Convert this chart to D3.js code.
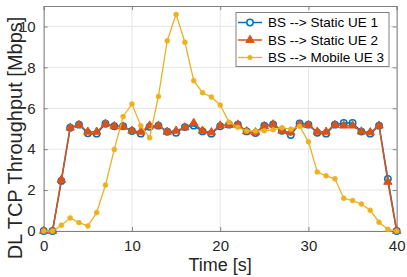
<!DOCTYPE html>
<html><head><meta charset="utf-8">
<script src="https://cdn.jsdelivr.net/npm/d3@7"></script>
<style>body{margin:0;background:#fff}svg{display:block}text{font-family:"Liberation Sans",Arial,sans-serif}</style>
</head><body><svg id="c" width="407" height="277"></svg>
<script>
const time = d3.range(0, 41);
const ue1 = [0,0,2.45,5.05,5.2,4.78,4.76,5.24,5.12,5.12,4.89,4.76,5.1,5.15,4.85,4.8,5.08,5.15,4.87,4.76,5.12,5.2,5.2,4.87,4.79,5.15,5.21,4.9,4.69,5.26,5.2,4.8,4.76,5.2,5.28,5.28,4.86,4.76,5.15,2.55,0];
const ue2 = [0,0,2.5,5.05,5.18,4.85,4.85,5.24,5.12,5.1,4.9,4.85,5.15,5.15,4.85,4.9,5.06,5.28,4.9,4.82,5.15,5.18,5.2,4.87,4.82,5.12,5.21,4.9,4.82,5.2,5.18,4.85,4.85,5.18,5.15,5.15,4.86,4.82,5.15,2.4,0];
const ue3 = [0,0,0.28,0.64,0.41,0.25,0.9,2.25,3.99,5.6,6.21,5.15,4.56,6.58,9.3,10.59,9.23,7.35,6.76,6.55,6.16,5.32,5.07,4.89,4.89,4.9,4.95,5.05,4.98,5.12,4.36,2.89,2.7,2.55,1.6,1.49,1.32,1.01,0.43,0.08,0];
const seriesNames = ["BS --> Static UE 1","BS --> Static UE 2","BS --> Mobile UE 3"];
const xTicks = [0,10,20,30,40];
const yTicks = [0,2,4,6,8,10];

const colors = ["#0072BD","#D95319","#EDB120"];
const svg = d3.select("#c");
const L = 43.7, R = 396.7, T = 6, B = 231;
const x = d3.scaleLinear().domain([0,40]).range([L,R]);
const y = d3.scaleLinear().domain([0,11]).range([B,T]);

// grid
const g = svg.append("g");
g.selectAll(".gx").data(xTicks).join("line").attr("x1",d=>x(d)).attr("x2",d=>x(d)).attr("y1",T).attr("y2",B).attr("stroke","#e6e6e6").attr("stroke-width",1);
g.selectAll(".gy").data(yTicks).join("line").attr("y1",d=>y(d)).attr("y2",d=>y(d)).attr("x1",L).attr("x2",R).attr("stroke","#e6e6e6").attr("stroke-width",1);

// axes
const axColor = "#808080";
const xa = svg.append("g").attr("transform",`translate(0,${B})`).call(d3.axisBottom(x).tickValues(xTicks).tickSize(-4).tickPadding(9));
const xt = svg.append("g").attr("transform",`translate(0,${T})`).call(d3.axisTop(x).tickValues(xTicks).tickSize(-4).tickFormat(""));
const ya = svg.append("g").attr("transform",`translate(${L},0)`).call(d3.axisLeft(y).tickValues(yTicks).tickSize(-4).tickPadding(8));
const yr = svg.append("g").attr("transform",`translate(${R},0)`).call(d3.axisRight(y).tickValues(yTicks).tickSize(-4).tickFormat(""));
[xa,xt,ya,yr].forEach(a=>{
  a.select(".domain").attr("stroke",axColor);
  a.selectAll(".tick line").attr("stroke",axColor);
  a.selectAll("text").attr("fill","#262626").style("font-size","15px").style("font-family",'"Liberation Sans",Arial,sans-serif');
});

// titles
svg.append("text").attr("x",(L+R)/2).attr("y",271).attr("text-anchor","middle").attr("fill","#262626").style("font-size","18px").text("Time [s]");
svg.append("text").attr("transform",`translate(22,138) rotate(-90)`).attr("text-anchor","middle").attr("fill","#262626").style("font-size","20px").text("DL TCP Throughput [Mbps]");

const line = d3.line().x((d,i)=>x(time[i])).y(d=>y(d));
const plot = svg.append("g");
// series 1
plot.append("path").datum(ue1).attr("d",line).attr("fill","none").attr("stroke",colors[0]).attr("stroke-width",1.5);
plot.selectAll(".m1").data(ue1).join("circle").attr("cx",(d,i)=>x(time[i])).attr("cy",d=>y(d)).attr("r",3.2).attr("fill","none").attr("stroke",colors[0]).attr("stroke-width",1.5);
// series 2
plot.append("path").datum(ue2).attr("d",line).attr("fill","none").attr("stroke",colors[1]).attr("stroke-width",1.5);
const tri = d3.symbol().type(d3.symbolTriangle).size(30);
plot.selectAll(".m2").data(ue2).join("path").attr("d",tri).attr("transform",(d,i)=>`translate(${x(time[i])},${y(d)})`).attr("fill",colors[1]).attr("stroke",colors[1]).attr("stroke-width",1);
// series 3
plot.append("path").datum(ue3).attr("d",line).attr("fill","none").attr("stroke",colors[2]).attr("stroke-width",1.3);
plot.selectAll(".m3").data(ue3).join("circle").attr("cx",(d,i)=>x(time[i])).attr("cy",d=>y(d)).attr("r",2.5).attr("fill",colors[2]).attr("stroke",colors[2]).attr("stroke-width",0.5);

// legend
const lg = svg.append("g");
lg.append("rect").attr("x",236).attr("y",12.5).attr("width",153).attr("height",54).attr("fill","#fff").attr("stroke","#808080").attr("stroke-width",1);
const ly = [22.5, 40, 57.5];
seriesNames.forEach((n,k)=>{
  lg.append("line").attr("x1",238).attr("x2",262).attr("y1",ly[k]).attr("y2",ly[k]).attr("stroke",colors[k]).attr("stroke-width",k==2?1.3:1.5);
  if(k==0) lg.append("circle").attr("cx",250).attr("cy",ly[k]).attr("r",3.2).attr("fill","#fff").attr("stroke",colors[0]).attr("stroke-width",1.5);
  if(k==1) lg.append("path").attr("d",tri).attr("transform",`translate(250,${ly[k]})`).attr("fill",colors[1]).attr("stroke",colors[1]);
  if(k==2) lg.append("circle").attr("cx",250).attr("cy",ly[k]).attr("r",2.5).attr("fill",colors[2]);
  lg.append("text").attr("x",268).attr("y",ly[k]+4.5).attr("fill","#000").style("font-size","13.5px").text(n);
});
</script></body></html>
